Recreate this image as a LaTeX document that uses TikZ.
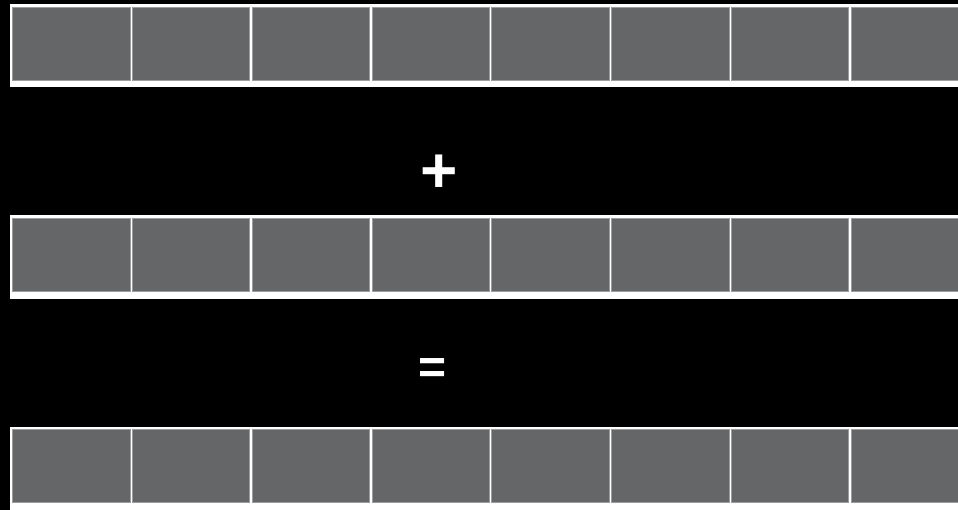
\documentclass[tikz,border=0pt]{standalone}
\usepackage{fontspec}
\setmainfont{Liberation Sans}
\begin{document}
\begin{tikzpicture}[x=1pt,y=-1pt,
  band/.style={fill=white,draw=none},
  cell/.style={fill=cellgray,draw=cellline,line width=0.6pt},
  sym/.style={text=white,inner sep=0pt,anchor=center}]
\definecolor{cellgray}{HTML}{656667}
\definecolor{cellline}{HTML}{9C9D9E}
\fill[black] (0,0) rectangle (958,510);
\useasboundingbox (0,0) rectangle (958,510);
% rows: top of band, top of cells, bottom of cells, bottom of band
\foreach \r/\bt/\ct/\cb/\bb in {1/4/7/80/87.5, 2/215/218/291/299, 3/427/429.5/502.5/512} {
  \fill[band] (10,\bt) rectangle (960,\bb);
  \foreach \c in {0,...,7} {
    \pgfmathsetmacro{\xl}{12.5+119.8*\c}
    \pgfmathsetmacro{\xr}{\xl+117.3}
    \path[cell] (\xl,\ct) rectangle (\xr,\cb);
  }
}
\node[sym,font=\bfseries\fontsize{64}{64}\selectfont] (plus) at (439.5,173.5) {+};
\node[sym,font=\bfseries\fontsize{48}{48}\selectfont] (eq) at (432.5,371) {=};
\end{tikzpicture}
\end{document}
